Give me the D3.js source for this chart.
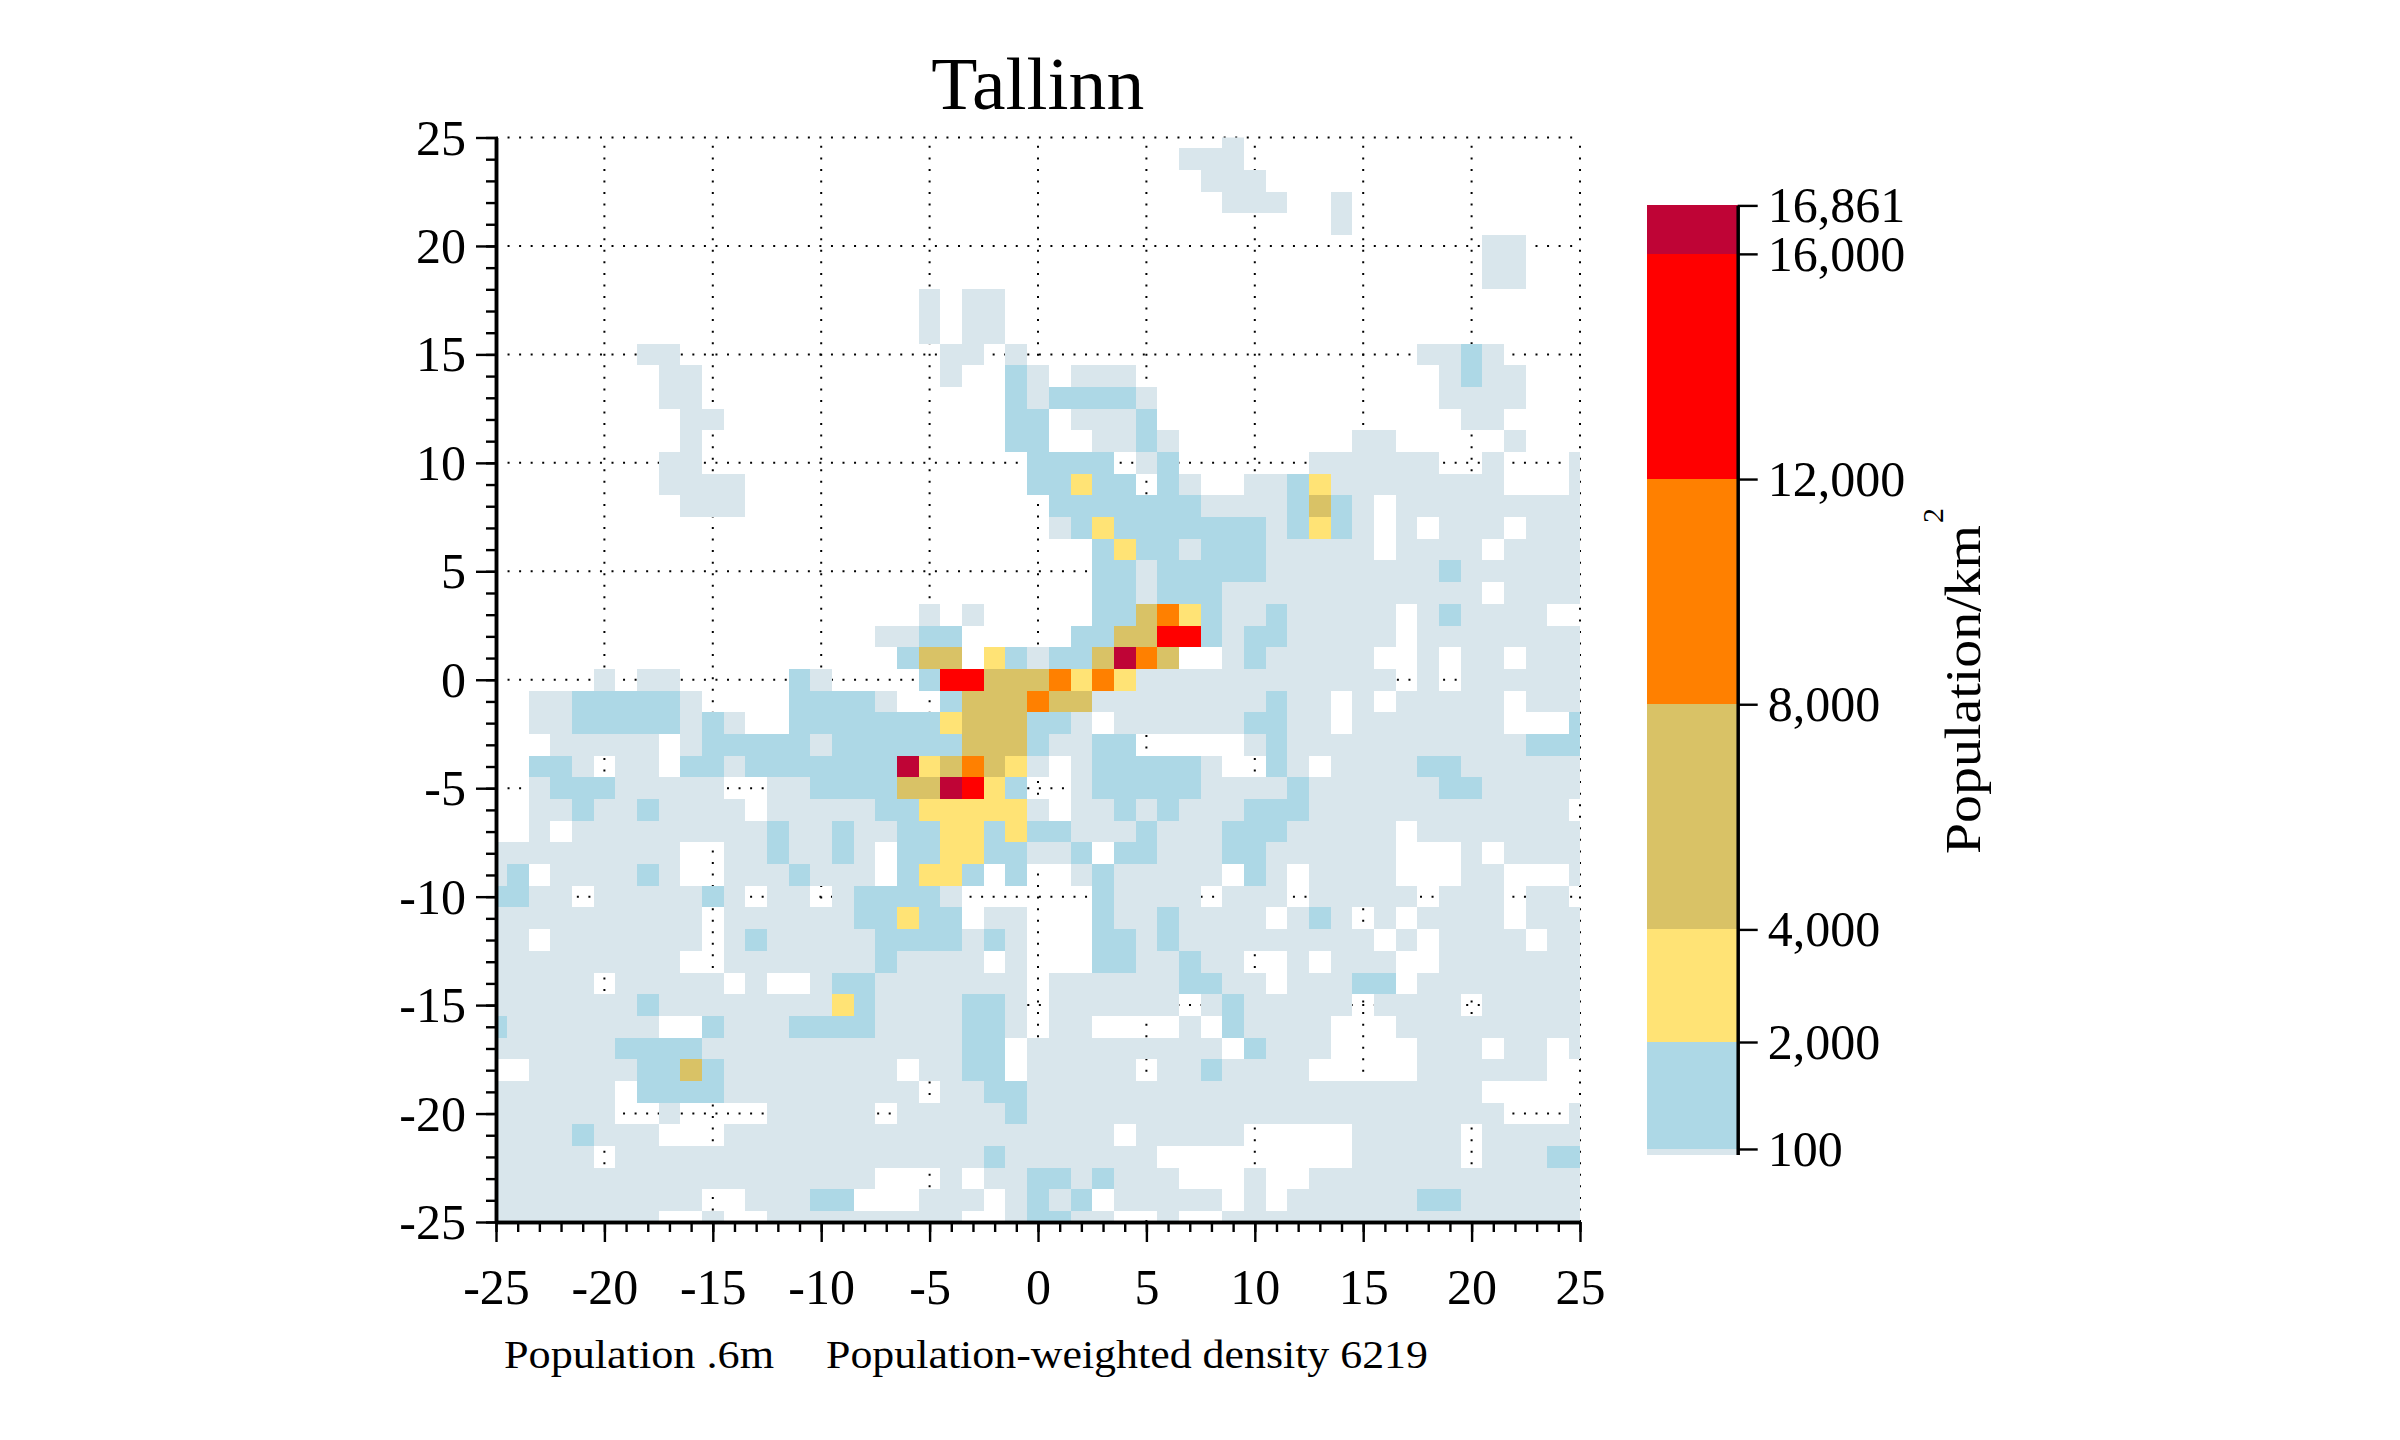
<!DOCTYPE html>
<html>
<head>
<meta charset="utf-8">
<style>
html,body{margin:0;padding:0;background:#fff}
text{font-family:"Liberation Serif",serif;fill:#000}
</style>
<script src="https://cdn.jsdelivr.net/npm/d3@7"></script>
</head>
<body>
<svg id="chart" width="2400" height="1440"></svg>
<script>
const titleText = "Tallinn";
const captionLeft = "Population .6m";
const captionRight = "Population-weighted density 6219";
const legendLabel = "Population/km";
const legendSup = "2";

const majorTicks = [-25,-20,-15,-10,-5,0,5,10,15,20,25];
const minorTicks = d3.range(-25,26);
const legendTicks = [100,2000,4000,8000,12000,16000,16861];
const thresholds = [0,100,2000,4000,8000,12000,16000,16861];
const colours = ["#d9e6ec","#add8e6","#ffe375","#d9c266","#ff8000","#ff0000","#bf0436"];

// Representative density of each band used in the grid rows below
const bandValue = {".":0,a:50,b:1000,y:3000,k:6000,o:10000,r:14000,c:16500};

// Row edges in km (the row around y=18 is split in two halves in the source)
const rowEdges = [25.5,24.5,23.5,22.5,21.5,20.5,19.5,18.5,18,17.5,16.5,15.5,14.5,13.5,12.5,11.5,10.5,9.5,8.5,7.5,6.5,5.5,4.5,3.5,2.5,1.5,0.5,-0.5,-1.5,-2.5,-3.5,-4.5,-5.5,-6.5,-7.5,-8.5,-9.5,-10.5,-11.5,-12.5,-13.5,-14.5,-15.5,-16.5,-17.5,-18.5,-19.5,-20.5,-21.5,-22.5,-23.5,-24.5,-25.5];

// Columns x=-25..25 in groups of five (last char is x=25)
const gridRows = [
"..... ..... ..... ..... ..... ..... ....a ..... ..... ..... .",
"..... ..... ..... ..... ..... ..... ..aaa ..... ..... ..... .",
"..... ..... ..... ..... ..... ..... ...aa a.... ..... ..... .",
"..... ..... ..... ..... ..... ..... ....a aa..a ..... ..... .",
"..... ..... ..... ..... ..... ..... ..... ....a ..... ..... .",
"..... ..... ..... ..... ..... ..... ..... ..... ..... .aa.. .",
"..... ..... ..... ..... ..... ..... ..... ..... ..... .aa.. .",
"..... ..... ..... ..... ..... ..... ..... ..... ..... .aa.. .",
"..... ..... ..... ..... a.aa. ..... ..... ..... ..... ..... .",
"..... ..... ..... ..... a.aa. ..... ..... ..... ..... ..... .",
"..... ..... ..... ..... a.aa. ..... ..... ..... ..... ..... .",
"..... ..aa. ..... ..... .aa.a ..... ..... ..... ...aa ba... .",
"..... ...aa ..... ..... .a..b a.aaa ..... ..... ....a baa.. .",
"..... ...aa ..... ..... ....b abbbb a.... ..... ....a aaa.. .",
"..... ....a a.... ..... ....b b.aaa b.... ..... ..... aa... .",
"..... ....a ..... ..... ....b b..aa ba... ..... aa... ..a.. .",
"..... ...aa ..... ..... ..... bbbb. ab... ...aa aaaa. .a... a",
"..... ...aa aa... ..... ..... bbybb .ba.. aabya aaaaa aa... a",
"..... ....a aa... ..... ..... .bbbb bbbaa aabkb a.aaa aaaaa a",
"..... ..... ..... ..... ..... .abyb bbbbb babyb a.a.a aa.aa a",
"..... ..... ..... ..... ..... ...by bbabb baaaa a.aaa a.aaa a",
"..... ..... ..... ..... ..... ...bb abbbb baaaa aaaab aaaaa a",
"..... ..... ..... ..... ..... ...bb abbba aaaaa aaaaa a.aaa a",
"..... ..... ..... ..... a.a.. ...bb koyba abaaa aa.ab aaaa. .",
"..... ..... ..... ...aa bb... ..bbk krrba bbaaa aa.aa aaaaa a",
"..... ..... ..... ....b kk.yb abbkc ok..a baaaa a..a. aa.aa a",
"..... a.aa. ....b a.... brrkk koyoy aaaaa aaaaa aa.a. aaaaa a",
"..aab bbbba ....b bbba. .bkkk okkaa aaaaa abaa. a.aaa aa.aa a",
"..aab bbbba ba..b bbbbb bykkk bba.a aaaaa bbaa. aaaaa aa... b",
"...aa aaa.a bbbbb abbbb bbkkk baabb ..... abaaa aaaaa aaabb b",
"..bba .aa.b babbb bbbbc ykoky a.abb bbba. .ba.a aaabb aaaaa a",
"..abb baaaa a..aa bbbbk kcryb ..abb bbbaa aabaa aaaab baaaa a",
"..aab aabaa aa.aa aaabb yyyyy a.aab abaaa bbbaa aaaaa aaaaa .",
"..a.a aaaaa aaaba abaab byyby bbaaa baaab bbaaa aa.aa aaaaa a",
"aaaaa aaaa. .aaba aba.b byybb aab.b baaab baaaa aa... a.aaa a",
"ab.aa aaba. .aaab aaa.b yyb.b ..aba aaaa. ba.aa aa... aa... a",
"bbaa. aaaaa ba.aa .abbb ba... ...ba aaa.a aa.aa aaa.a aa.aa .",
"aaaaa aaaaa .aaaa aabby bb.aa ...ba abaaa a.aba .a.aa aa.aa a",
"aa.aa aaaaa .abaa aaabb bbaba ...bb abaaa aaaaa a.a.a aaa.a a",
"aaaaa aaaa. .aaaa aaaba aaa.a ...bb aabaa ..a.a aa..a aaaaa a",
"aaaaa .aaaa a.a.. abbaa aaaaa .aaaa aabba a.aaa bb.aa aaaaa a",
"aaaaa aabaa aaaaa aybaa aabba .aaaa aa.ab aaaaa .aaaa .aaaa a",
"baaaa aaa.. baaab bbbaa aabba .aa.. ..a.b aaaa. ..aaa aaaaa a",
"aaaaa abbbb aaaaa aaaaa aabb. aaaaa aaaa. baaa. ...aa a.aa. a",
"..aaa aabbk baaaa aaaa. aabb. aaaaa .aaba aaa.. ...aa aaaa. .",
"aaaaa a.bbb baaaa aaaaa .aabb aaaaa aaaaa aaaaa aaaaa a.... .",
"aaaaa a..a. ...aa aaa.a aaaab aaaaa aaaaa aaaaa aaaaa aa... a",
"aaaab aaa.. .aaaa aaaaa aaaaa aaaa. aaaaa ..... aaaaa .aaaa a",
"aaaaa .aaaa aaaaa aaaaa aaaba aaaaa a.... ..... aaaaa .aaab b",
"aaaaa aaaaa aaaaa aaa.. .a.aa bbaba aa... a..aa aaaaa aaaaa a",
"aaaaa aaaaa ..aaa bb... aaa.a bab.a aaaa. a.aaa aaabb aaaaa a",
"aaaaa aaa.. a..aa aaaaa aa..a bbaa. .a..a aaaaa aaaaa aaaaa a"
];

const svg = d3.select("#chart");
svg.append("rect").attr("width",2400).attr("height",1440).attr("fill","#fff");

const plot = {left:496,right:1580,top:137.5,bottom:1222};
const x = d3.scaleLinear().domain([-25,25]).range([plot.left,plot.right]);
const y = d3.scaleLinear().domain([-25,25]).range([plot.bottom,plot.top]);
const colour = d3.scaleThreshold().domain(thresholds.slice(1,-1)).range(colours);

svg.append("defs").append("clipPath").attr("id","plotClip").append("rect")
  .attr("x",plot.left).attr("y",plot.top)
  .attr("width",plot.right-plot.left).attr("height",plot.bottom-plot.top);

// dotted grid
const grid = svg.append("g").attr("stroke","#000").attr("stroke-width",2).attr("stroke-dasharray","2 9.55");
grid.selectAll("line.v").data(majorTicks).join("line").attr("class","v")
  .attr("x1",d=>x(d)).attr("x2",d=>x(d)).attr("y1",plot.bottom).attr("y2",plot.top);
grid.selectAll("line.h").data(majorTicks).join("line").attr("class","h")
  .attr("y1",d=>y(d)).attr("y2",d=>y(d)).attr("x1",plot.left).attr("x2",plot.right);

// cells
const cells = [];
gridRows.forEach((row,r)=>{
  row.replace(/ /g,"").split("").forEach((code,c)=>{
    if(code!==".") cells.push({col:c-25,top:rowEdges[r],bottom:rowEdges[r+1],value:bandValue[code]});
  });
});
svg.append("g").attr("clip-path","url(#plotClip)").attr("shape-rendering","crispEdges")
  .selectAll("rect").data(cells).join("rect")
  .attr("x",d=>x(d.col-0.5)).attr("y",d=>y(d.top))
  .attr("width",d=>x(d.col+0.5)-x(d.col-0.5)).attr("height",d=>y(d.bottom)-y(d.top))
  .attr("fill",d=>colour(d.value));

function styleAxis(g,w,fs,dy){
  g.select(".domain").attr("stroke","#000").attr("stroke-width",w);
  g.selectAll(".tick line").attr("stroke","#000").attr("stroke-width",2.4);
  const t = g.selectAll("text").attr("font-family","Liberation Serif").attr("font-size",fs).attr("fill","#000");
  if(dy) t.attr("dy",dy);
}
// minor ticks
styleAxis(svg.append("g").attr("transform",`translate(0,${plot.bottom})`)
  .call(d3.axisBottom(x).tickValues(minorTicks).tickSize(10).tickSizeOuter(0).tickFormat("")),3.5,50);
styleAxis(svg.append("g").attr("transform",`translate(${plot.left},0)`)
  .call(d3.axisLeft(y).tickValues(minorTicks).tickSize(10).tickSizeOuter(0).tickFormat("")),3.5,50);
// major ticks with labels
const fmt = d=>String(d);
const xAxisG = svg.append("g").attr("transform",`translate(0,${plot.bottom})`)
  .call(d3.axisBottom(x).tickValues(majorTicks).tickSize(20).tickSizeOuter(0).tickPadding(26).tickFormat(fmt));
styleAxis(xAxisG,3.5,50);
const yAxisG = svg.append("g").attr("transform",`translate(${plot.left},0)`)
  .call(d3.axisLeft(y).tickValues(majorTicks).tickSize(20).tickSizeOuter(0).tickPadding(10).tickFormat(fmt));
styleAxis(yAxisG,3.5,50,"0.33em");

// title and captions
svg.append("text").attr("x",1037.7).attr("y",109).attr("text-anchor","middle")
  .attr("font-size",73).attr("textLength",213).attr("lengthAdjust","spacingAndGlyphs").text(titleText);
svg.append("text").attr("x",504).attr("y",1368).attr("font-size",40)
  .attr("textLength",270).attr("lengthAdjust","spacingAndGlyphs").text(captionLeft);
svg.append("text").attr("x",826).attr("y",1368).attr("font-size",40)
  .attr("textLength",602).attr("lengthAdjust","spacingAndGlyphs").text(captionRight);

// colour bar
const cbar = {left:1647,right:1737.7};
const c = d3.scaleLinear().domain([0,16861]).range([1154.6,205.4]);
const bands = d3.pairs(thresholds).map(([a,b],i)=>({from:a,to:b,fill:colours[i]}));
svg.append("g").attr("shape-rendering","crispEdges").selectAll("rect").data(bands).join("rect")
  .attr("x",cbar.left).attr("width",cbar.right-cbar.left)
  .attr("y",d=>c(d.to)).attr("height",d=>c(d.from)-c(d.to)).attr("fill",d=>d.fill);
const cAxisG = svg.append("g").attr("transform",`translate(${cbar.right},0)`)
  .call(d3.axisRight(c).tickValues(legendTicks).tickSize(20).tickSizeOuter(0).tickPadding(10).tickFormat(d3.format(",")));
styleAxis(cAxisG,3.5,50,"0.33em");

// legend title
svg.append("text").attr("transform","translate(1980,854) rotate(-90)")
  .attr("font-size",50).attr("textLength",329).attr("lengthAdjust","spacingAndGlyphs").text(legendLabel);
svg.append("text").attr("transform","translate(1943,523) rotate(-90)")
  .attr("font-size",30).text(legendSup);
</script>
</body>
</html>
